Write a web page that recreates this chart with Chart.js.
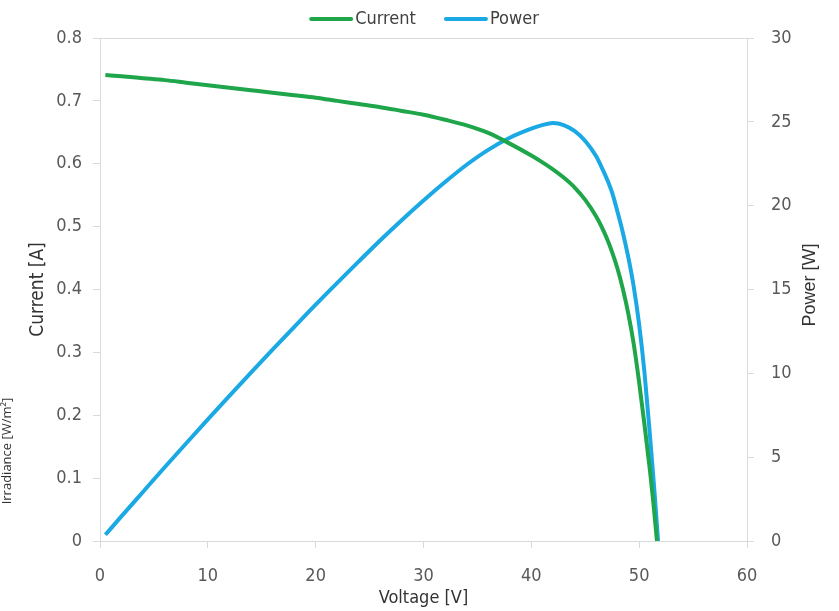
<!DOCTYPE html>
<html>
<head>
<meta charset="utf-8">
<script src="https://cdn.jsdelivr.net/npm/chart.js@4.4.1/dist/chart.umd.min.js"></script>
<style>
  html, body { margin: 0; padding: 0; background: #ffffff; }
  #wrap { position: relative; width: 839px; height: 611px; }
</style>
</head>
<body>
<div id="wrap"><canvas id="c" width="839" height="611"></canvas></div>
<script>
// Data
const voltageI = [0.5, 2, 4, 6, 8, 10, 12, 14, 16, 18, 20, 22, 24, 26, 28, 30, 32, 34, 36, 38, 40, 41, 42, 43, 44, 45, 46, 46.5, 47, 47.5, 48, 48.5, 49, 49.5, 50, 50.5, 51, 51.3, 51.65];
const current  = [0.741, 0.739, 0.736, 0.733, 0.729, 0.725, 0.721, 0.717, 0.713, 0.709, 0.705, 0.700, 0.695, 0.690, 0.684, 0.678, 0.670, 0.661, 0.649, 0.632, 0.613, 0.6025, 0.591, 0.578, 0.5625, 0.5425, 0.5165, 0.5005, 0.4815, 0.459, 0.4325, 0.400, 0.361, 0.313, 0.252, 0.184, 0.112, 0.064, 0.000];
const voltageP = [0.5, 2, 4, 6, 8, 10, 12, 14, 16, 18, 20, 22, 24, 26, 28, 30, 32, 34, 36, 38, 40, 41, 42, 43, 44, 45, 46, 46.5, 47, 47.5, 48, 48.5, 49, 49.5, 50, 50.5, 51, 51.4, 51.75];
const power    = [0.37, 1.48, 2.94, 4.40, 5.83, 7.25, 8.65, 10.04, 11.41, 12.76, 14.10, 15.40, 16.68, 17.94, 19.15, 20.31, 21.41, 22.44, 23.33, 24.05, 24.59, 24.80, 24.93, 24.81, 24.46, 23.86, 22.96, 22.32, 21.61, 20.76, 19.61, 18.36, 16.90, 15.15, 12.90, 10.00, 6.30, 3.10, 0.00];
const seriesNames = ['Current', 'Power'];
const xTitle = 'Voltage [V]';
const yLeftTitle = 'Current [A]';
const yRightTitle = 'Power [W]';
const sideNote = 'Irradiance [W/m²]';

const NARROW = "'Liberation Sans Narrow', 'DejaVu Sans Condensed', 'Liberation Sans', sans-serif";
const GRID = '#d9d9d9';
const TICKCOL = '#595959';
const COLORS = ['#1fa64a', '#1aa9e4'];

const extraTextPlugin = {
  id: 'extraText',
  afterDraw(chart) {
    const ctx = chart.ctx;
    // legend (line + label), centred at the top
    ctx.save();
    ctx.font = "18px " + NARROW;
    ctx.textBaseline = 'middle';
    ctx.textAlign = 'left';
    const lineW = 42, gapText = 4, gapItem = 28, ly = 19;
    const widths = chart.data.datasets.map(d => ctx.measureText(d.label).width);
    let total = 0;
    widths.forEach((w, i) => { total += lineW + gapText + w + (i < widths.length - 1 ? gapItem : 0); });
    let x = 424 - total / 2;
    chart.data.datasets.forEach((d, i) => {
      ctx.strokeStyle = d.borderColor;
      ctx.lineWidth = 4;
      ctx.lineCap = 'round';
      ctx.beginPath();
      ctx.moveTo(x + 2, ly);
      ctx.lineTo(x + lineW, ly);
      ctx.stroke();
      ctx.fillStyle = '#404040';
      ctx.fillText(d.label, x + lineW + gapText, ly);
      x += lineW + gapText + widths[i] + gapItem;
    });
    ctx.restore();
    // clipped side note at the far left
    ctx.save();
    ctx.translate(7, 451);
    ctx.rotate(-Math.PI / 2);
    ctx.font = "13px 'Open Sans', 'Liberation Sans', sans-serif";
    ctx.fillStyle = '#333333';
    ctx.textAlign = 'center';
    ctx.textBaseline = 'middle';
    ctx.fillText(sideNote, 0, 0);
    ctx.restore();
    // right axis title, reading bottom-to-top
    ctx.save();
    ctx.translate(810, 285);
    ctx.rotate(-Math.PI / 2);
    ctx.font = "18px 'Liberation Sans', Arial, sans-serif";
    ctx.fillStyle = '#333333';
    ctx.textAlign = 'center';
    ctx.textBaseline = 'middle';
    ctx.fillText(yRightTitle, 0, 0);
    ctx.restore();
  }
};

new Chart(document.getElementById('c'), {
  type: 'line',
  data: {
    datasets: [
      {
        label: seriesNames[0],
        data: voltageI.map((v, i) => ({ x: v, y: current[i] })),
        yAxisID: 'y',
        borderColor: COLORS[0],
        backgroundColor: COLORS[0],
        borderWidth: 4,
        pointRadius: 0,
        cubicInterpolationMode: 'monotone',
        fill: false
      },
      {
        label: seriesNames[1],
        data: voltageP.map((v, i) => ({ x: v, y: power[i] })),
        yAxisID: 'y2',
        borderColor: COLORS[1],
        backgroundColor: COLORS[1],
        borderWidth: 4,
        pointRadius: 0,
        cubicInterpolationMode: 'monotone',
        fill: false
      }
    ]
  },
  options: {
    responsive: false,
    animation: false,
    devicePixelRatio: 1,
    layout: { padding: { top: 38, left: 0, right: 0, bottom: 0 } },
    plugins: {
      tooltip: { enabled: false },
      legend: { display: false }
    },
    scales: {
      x: {
        type: 'linear',
        min: 0, max: 60,
        ticks: { stepSize: 10, color: TICKCOL, font: { family: NARROW, size: 18 }, padding: 18 },
        grid: { drawOnChartArea: false, tickLength: 7, tickColor: GRID },
        border: { color: GRID, width: 1 },
        title: { display: true, text: xTitle, color: '#333333', font: { family: NARROW, size: 18 }, padding: { top: 0, bottom: 2 } },
        afterFit(s) { s.height = 70; }
      },
      y: {
        position: 'left',
        min: 0, max: 0.8,
        ticks: {
          stepSize: 0.1, color: TICKCOL, font: { family: NARROW, size: 18 }, padding: 11,
          callback: (v) => (Math.abs(v) < 1e-9 ? '0' : Number(v).toFixed(1))
        },
        grid: {
          drawOnChartArea: true, tickLength: 7, tickColor: GRID,
          color: (c) => (c.tick && Math.abs(c.tick.value - 0.8) < 1e-9 ? GRID : 'rgba(0,0,0,0)')
        },
        border: { color: GRID, width: 1 },
        title: { display: true, text: yLeftTitle, color: '#333333', font: { family: NARROW, size: 19 }, padding: { top: 27, bottom: 0 } },
        afterFit(s) { s.width = 100; }
      },
      y2: {
        position: 'right',
        min: 0, max: 30,
        ticks: { stepSize: 5, color: TICKCOL, font: { family: NARROW, size: 18 }, padding: 17 },
        grid: { drawOnChartArea: false, tickLength: 7, tickColor: GRID },
        border: { color: GRID, width: 1 },
        title: { display: false },
        afterFit(s) { s.width = 92; }
      }
    }
  },
  plugins: [extraTextPlugin]
});
</script>
</body>
</html>
